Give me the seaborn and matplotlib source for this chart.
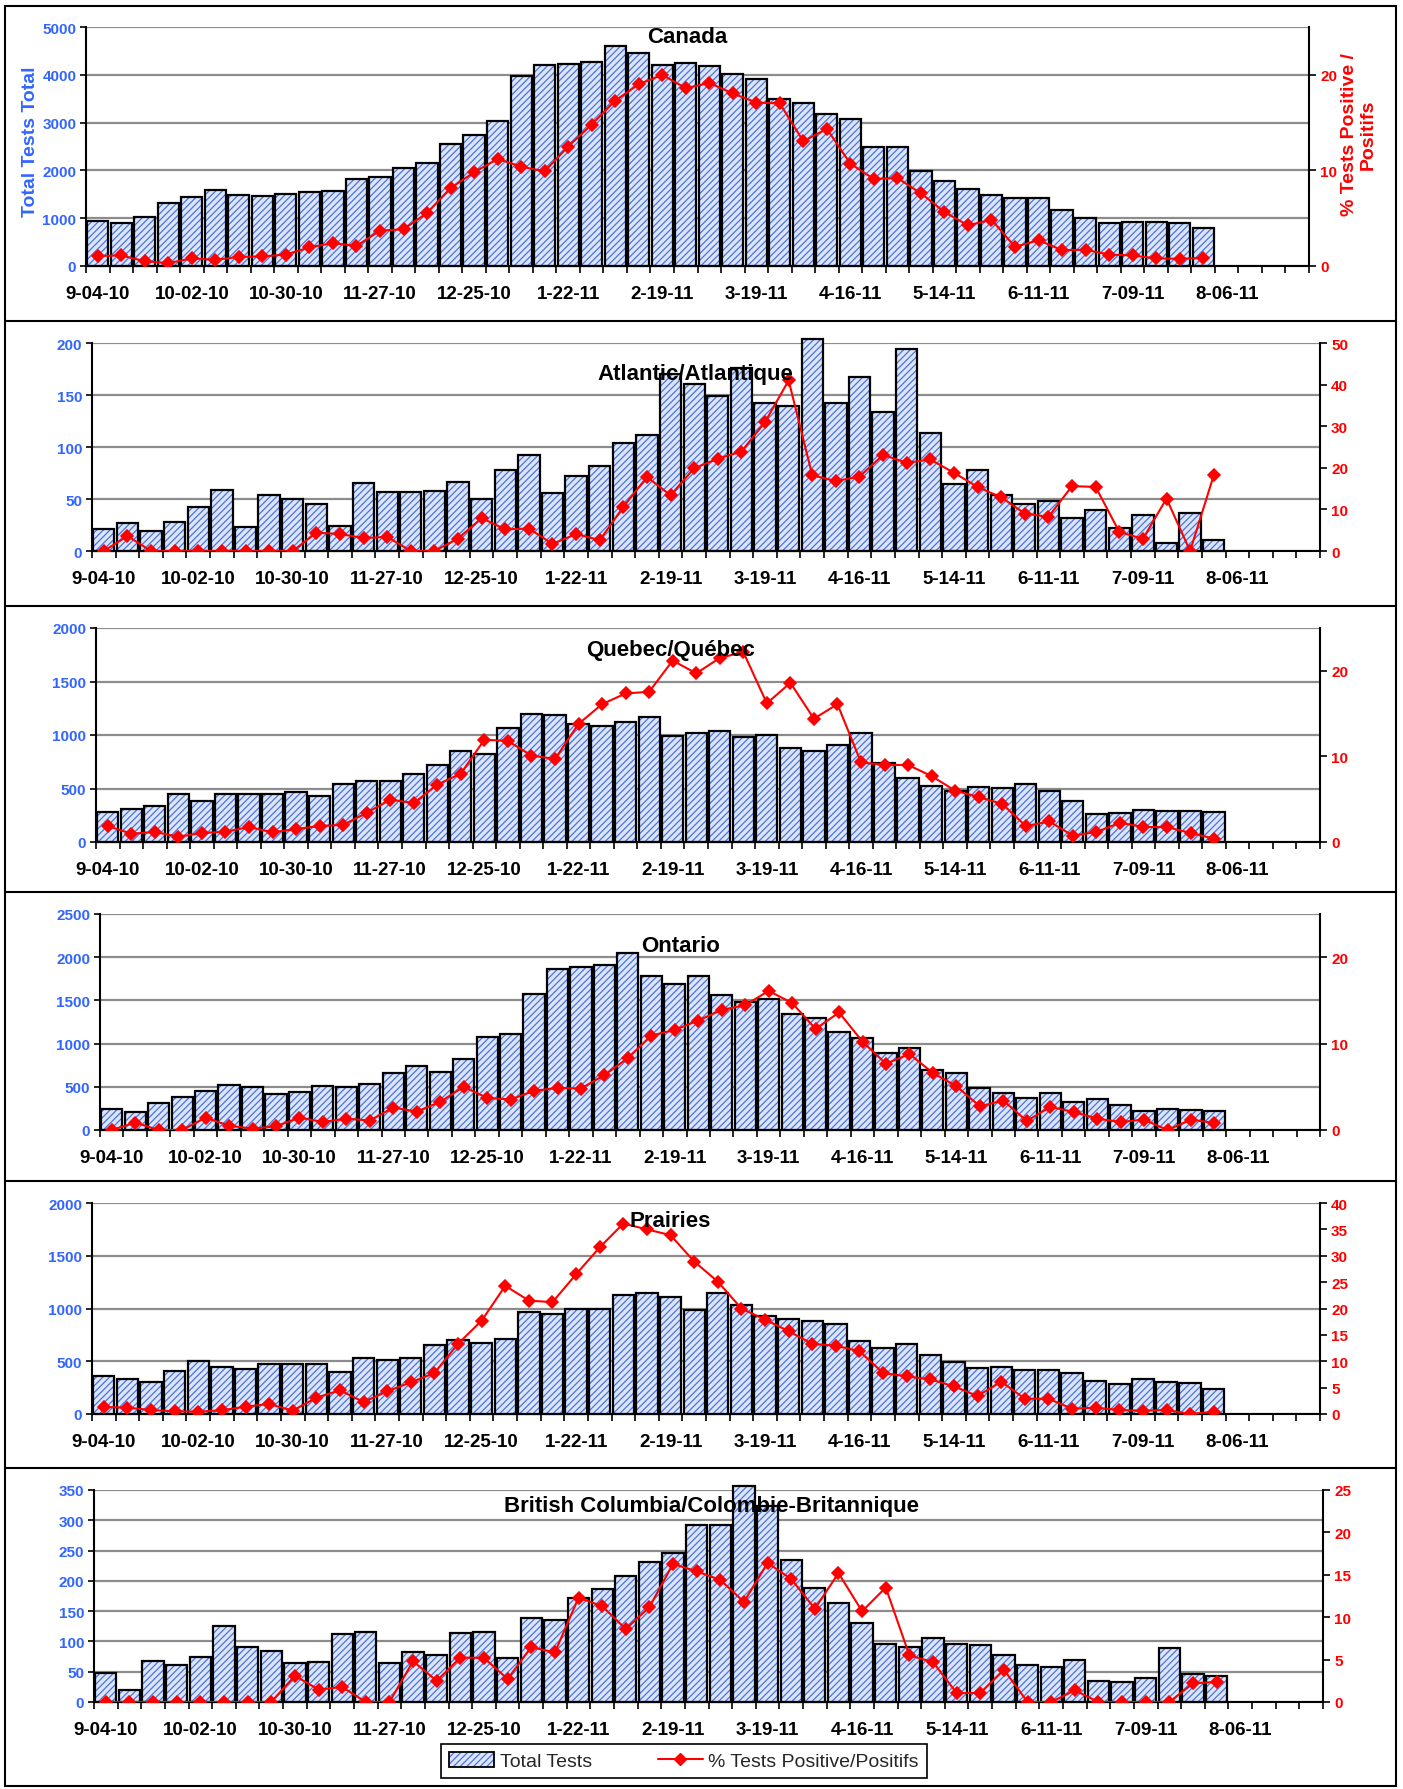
import numpy as np
import pandas as pd
import matplotlib.pyplot as plt
import seaborn as sns
from matplotlib.patches import Patch, Rectangle
from matplotlib.lines import Line2D
from matplotlib.legend_handler import HandlerTuple

# weekly categories, 9-04-10 .. 8-27-11 (last 4 weeks have no data)
weeks = [f"{d.month}-{d.day:02d}-{d.year % 100:02d}"
         for d in pd.date_range("2010-09-04", periods=52, freq="7D")]
TICK_LABELS = ["9-04-10", "10-02-10", "10-30-10", "11-27-10", "12-25-10", "1-22-11",
               "2-19-11", "3-19-11", "4-16-11", "5-14-11", "6-11-11", "7-09-11", "8-06-11"]

CANADA_TESTS = [950, 900, 1030, 1320, 1450, 1595, 1475, 1470, 1500, 1540,
                1575, 1825, 1870, 2040, 2160, 2550, 2735, 3030, 3965, 4195,
                4225, 4260, 4610, 4450, 4200, 4245, 4180, 4020, 3910, 3500,
                3420, 3190, 3085, 2490, 2490, 1985, 1770, 1610, 1490, 1425,
                1420, 1180, 1000, 895, 925, 925, 895, 785]
CANADA_PCT = [1.05, 1.1, 0.5, 0.3, 0.8, 0.65, 0.95, 1.0, 1.2, 1.95,
              2.4, 2.1, 3.7, 3.85, 5.55, 8.15, 9.8, 11.2, 10.4, 9.9,
              12.5, 14.8, 17.3, 19.0, 20.0, 18.6, 19.15, 18.05, 17.1, 17.0,
              13.05, 14.35, 10.7, 9.1, 9.2, 7.6, 5.65, 4.25, 4.85, 2.0,
              2.7, 1.65, 1.7, 1.2, 1.1, 0.8, 0.75, 0.85]

ATLANTIC_TESTS = [21, 27, 19, 28, 42, 59, 23, 54, 50, 45,
                  24, 65, 57, 57, 58, 66, 50, 78, 92, 56,
                  72, 82, 104, 112, 170, 161, 149, 176, 142, 139,
                  204, 142, 167, 134, 194, 113, 64, 78, 54, 45,
                  48, 32, 39, 22, 35, 8, 37, 11]
ATLANTIC_PCT = [0, 3.6, 0, 0, 0, 0, 0, 0, 0, 4.4,
                4.1, 3.1, 3.4, 0, 0, 3.0, 7.9, 5.2, 5.4, 1.7,
                4.1, 2.6, 10.6, 17.8, 13.4, 19.9, 22.2, 23.9, 31, 41,
                18.2, 16.8, 17.9, 23.1, 21.2, 22, 18.8, 15.4, 12.9, 9,
                8.2, 15.6, 15.4, 4.6, 2.9, 12.6, 0, 18.2]

QUEBEC_TESTS = [277, 311, 339, 451, 383, 451, 445, 445, 467, 429,
                538, 569, 569, 638, 722, 846, 827, 1061, 1194, 1185,
                1101, 1082, 1123, 1166, 989, 1020, 1033, 983, 1001, 883,
                852, 905, 1023, 740, 594, 523, 473, 513, 501, 541,
                473, 380, 261, 271, 295, 286, 292, 283]
QUEBEC_PCT = [1.87, 0.97, 1.17, 0.62, 1.05, 1.2, 1.75, 1.13, 1.52, 1.87,
              2.0, 3.4, 4.95, 4.55, 6.7, 8.0, 11.95, 11.8, 10.1, 9.7,
              13.8, 16.1, 17.35, 17.55, 21.2, 19.7, 21.5, 22.2, 16.2, 18.6,
              14.4, 16.1, 9.3, 9.0, 9.0, 7.7, 6.0, 5.25, 4.45, 1.87,
              2.4, 0.74, 1.17, 2.25, 1.75, 1.75, 1.05, 0.39]

ONTARIO_TESTS = [240, 213, 313, 379, 453, 519, 503, 414, 445, 511,
                 495, 538, 662, 739, 666, 824, 1076, 1111, 1579, 1865,
                 1892, 1912, 2047, 1784, 1695, 1788, 1567, 1486, 1521, 1343,
                 1296, 1134, 1064, 894, 944, 697, 654, 488, 426, 368,
                 433, 321, 356, 290, 224, 240, 232, 221]
ONTARIO_PCT = [0, 0.85, 0, 0, 1.43, 0.5, 0.15, 0.43, 1.43, 0.93,
               1.32, 1.09, 2.6, 2.13, 3.26, 5.0, 3.72, 3.53, 4.53, 4.88,
               4.8, 6.36, 8.33, 10.93, 11.59, 12.67, 13.9, 14.45, 16.1, 14.7,
               11.7, 13.6, 10.23, 7.67, 8.8, 6.6, 5.08, 2.75, 3.41, 1.05,
               2.67, 2.09, 1.32, 0.93, 1.2, 0, 1.2, 0.81]

PRAIRIES_TESTS = [363, 335, 300, 404, 506, 445, 427, 477, 477, 477,
                  401, 534, 515, 531, 651, 698, 670, 711, 967, 948,
                  992, 992, 1128, 1144, 1109, 989, 1150, 1030, 929, 897,
                  878, 850, 692, 629, 667, 559, 493, 439, 442, 414,
                  414, 385, 313, 284, 329, 306, 291, 234]
PRAIRIES_PCT = [1.33, 1.2, 0.76, 0.5, 0.44, 0.7, 1.39, 1.9, 0.63, 3.1,
                4.5, 2.27, 4.3, 6.0, 7.77, 13.3, 17.7, 24.3, 21.5, 21.2,
                26.5, 31.6, 36.1, 35.0, 33.9, 28.9, 25.1, 20.0, 17.9, 15.7,
                13.3, 12.95, 11.9, 7.77, 7.14, 6.57, 5.24, 3.41, 6.13, 2.9,
                2.9, 1.0, 1.2, 0.76, 0.63, 0.76, 0, 0.44]

BC_TESTS = [48, 19, 67, 61, 75, 125, 91, 84, 64, 66,
            112, 116, 65, 83, 78, 114, 116, 73, 139, 136,
            171, 186, 208, 231, 246, 292, 292, 356, 323, 234,
            189, 164, 131, 96, 91, 106, 96, 94, 77, 61,
            58, 70, 35, 33, 40, 89, 46, 43]
BC_PCT = [0, 0, 0, 0, 0, 0, 0, 0, 3.1, 1.46,
          1.77, 0, 0, 4.8, 2.5, 5.24, 5.2, 2.72, 6.47, 5.84,
          12.3, 11.3, 8.6, 11.2, 16.3, 15.4, 14.4, 11.8, 16.4, 14.5,
          11.0, 15.2, 10.7, 13.5, 5.5, 4.7, 1.06, 1.06, 3.8, 0,
          0, 1.38, 0, 0, 0, 0, 2.2, 2.37]

TITLES = ["Canada", "Atlantic/Atlantique", "Quebec/Québec", "Ontario", "Prairies",
          "British Columbia/Colombie-Britannique"]

BLUE = "#3366FF"
RED = "#FF0000"
FILL = "#DCE5FA"
HATCH = "#4A74E0"
GRID = "#8C8C8C"

W, H = 1403, 1790

sns.set_style("white")
plt.rcParams["font.family"] = ["Liberation Sans", "DejaVu Sans"]
plt.rcParams["font.weight"] = "bold"
plt.rcParams["hatch.linewidth"] = 0.9

# panel layout in pixels: left, right, top, bottom of plot area; title x, title baseline
panels = [
    (CANADA_TESTS, CANADA_PCT, 5000, 1000, 25, [0, 10, 20], (86, 1309, 28, 267), (687, 43)),
    (ATLANTIC_TESTS, ATLANTIC_PCT, 200, 50, 50, list(range(0, 51, 10)), (92, 1320, 344, 552), (695, 380)),
    (QUEBEC_TESTS, QUEBEC_PCT, 2000, 500, 25, [0, 10, 20], (96, 1320, 629, 843), (671, 656)),
    (ONTARIO_TESTS, ONTARIO_PCT, 2500, 500, 25, [0, 10, 20], (100, 1320, 915, 1131), (681, 952)),
    (PRAIRIES_TESTS, PRAIRIES_PCT, 2000, 500, 40, list(range(0, 41, 5)), (92, 1320, 1204, 1415), (670, 1227)),
    (BC_TESTS, BC_PCT, 350, 50, 25, list(range(0, 26, 5)), (94, 1323, 1491, 1703), (711, 1512)),
]

fig = plt.figure(figsize=(W / 100, H / 100), dpi=100)

tick_pos = [weeks.index(t) for t in TICK_LABELS]

for (tests, pct, ymax, ystep, rmax, rticks, box, tpos), title in zip(panels, TITLES):
    l, r, t, b = box
    ax = fig.add_axes([l / W, 1 - b / H, (r - l) / W, (b - t) / H])
    df = pd.DataFrame({"week": weeks[:len(tests)], "tests": tests, "pct": pct})

    # hatched fill, then black outline on top
    sns.barplot(data=df, x="week", y="tests", order=weeks, ax=ax, color=FILL,
                saturation=1, width=0.9, hatch="/////", edgecolor=HATCH,
                linewidth=0, clip_on=False, zorder=2)
    sns.barplot(data=df, x="week", y="tests", order=weeks, ax=ax, fill=False,
                color="black", edgecolor="black", saturation=1, width=0.9,
                linewidth=1.6, clip_on=False, zorder=3)

    ax2 = ax.twinx()
    sns.pointplot(data=df, x="week", y="pct", order=weeks, ax=ax2, color=RED,
                  markers="D", linestyles="-", errorbar=None, markersize=6.5,
                  linewidth=1.5)

    ax.set_ylim(0, ymax)
    ax.set_yticks(np.arange(0, ymax + 1, ystep))
    ax2.set_ylim(0, rmax)
    ax2.set_yticks(rticks)
    ax.set_xlim(-0.5, len(weeks) - 0.5)
    ax.set_xticks(tick_pos, TICK_LABELS)
    ax.set_xticks(np.arange(-0.5, len(weeks)), minor=True)
    ax.set_xlabel("")
    ax.set_ylabel("")
    ax2.set_ylabel("")

    ax.set_axisbelow(True)
    ax.yaxis.grid(True, color=GRID, linewidth=1.6)
    ax.xaxis.grid(False)
    ax2.grid(False)

    ax.tick_params(axis="x", which="major", length=0, pad=14, labelsize=13.5,
                   labelcolor="black")
    ax.tick_params(axis="x", which="minor", length=5, width=1.2, color="black",
                   direction="out", bottom=True)
    ax.tick_params(axis="y", length=4, width=1.2, color="black", direction="out",
                   pad=3, labelsize=11, labelcolor=BLUE, left=True)
    ax2.tick_params(axis="y", length=5, width=1.2, color="black", direction="out",
                    pad=3, labelsize=11, labelcolor=RED, right=True)

    for s in ["top", "right"]:
        ax.spines[s].set_visible(False)
    for s in ["left", "bottom"]:
        ax.spines[s].set_color("black")
        ax.spines[s].set_linewidth(1.5)
    for s in ["top", "left", "bottom"]:
        ax2.spines[s].set_visible(False)
    ax2.spines["right"].set_color("black")
    ax2.spines["right"].set_linewidth(1.5)

    fig.text(tpos[0] / W, 1 - tpos[1] / H, title, ha="center", va="baseline",
             fontsize=16, fontweight="bold", color="black", zorder=10)

# axis titles of the first panel
fig.text(31 / W, 1 - 142 / H, "Total Tests Total", rotation=90, ha="center", va="center",
         fontsize=14, fontweight="bold", color=BLUE)
fig.text(1359 / W, 1 - 135 / H, "% Tests Positive /\nPositifs", rotation=90,
         ha="center", va="center", multialignment="center", fontsize=14,
         fontweight="bold", color=RED, linespacing=1.1)

# frame and separators
fig.add_artist(Rectangle((5 / W, 1 - 1787 / H), (1396 - 5) / W, (1787 - 7) / H,
                         transform=fig.transFigure, fill=False, lw=1.5, ec="black"))
for y in [322, 607, 893, 1182, 1469]:
    fig.add_artist(Line2D([5 / W, 1396 / W], [1 - y / H, 1 - y / H],
                          transform=fig.transFigure, color="black", lw=1.5))

# legend
bar_fill = Patch(facecolor=FILL, edgecolor=HATCH, hatch="/////", linewidth=0)
bar_edge = Patch(facecolor="none", edgecolor="black", linewidth=1.3)
pct_line = Line2D([], [], color=RED, marker="D", markersize=6.5, linewidth=1.5)
leg = fig.legend(handles=[(bar_fill, bar_edge), pct_line],
                 labels=["Total Tests", "% Tests Positive/Positifs"],
                 handler_map={tuple: HandlerTuple(ndivide=1)},
                 loc="center", bbox_to_anchor=(684 / W, 1 - 1762 / H), ncol=2,
                 frameon=True, fancybox=False, framealpha=1, edgecolor="black",
                 prop={"family": ["Liberation Sans", "DejaVu Sans"], "weight": "normal", "size": 14},
                 handlelength=2.3, handleheight=0.8, columnspacing=3.4,
                 handletextpad=0.3, borderpad=0.4, borderaxespad=0)
leg.get_frame().set_linewidth(1.2)

fig.savefig("out.png", dpi=100)
